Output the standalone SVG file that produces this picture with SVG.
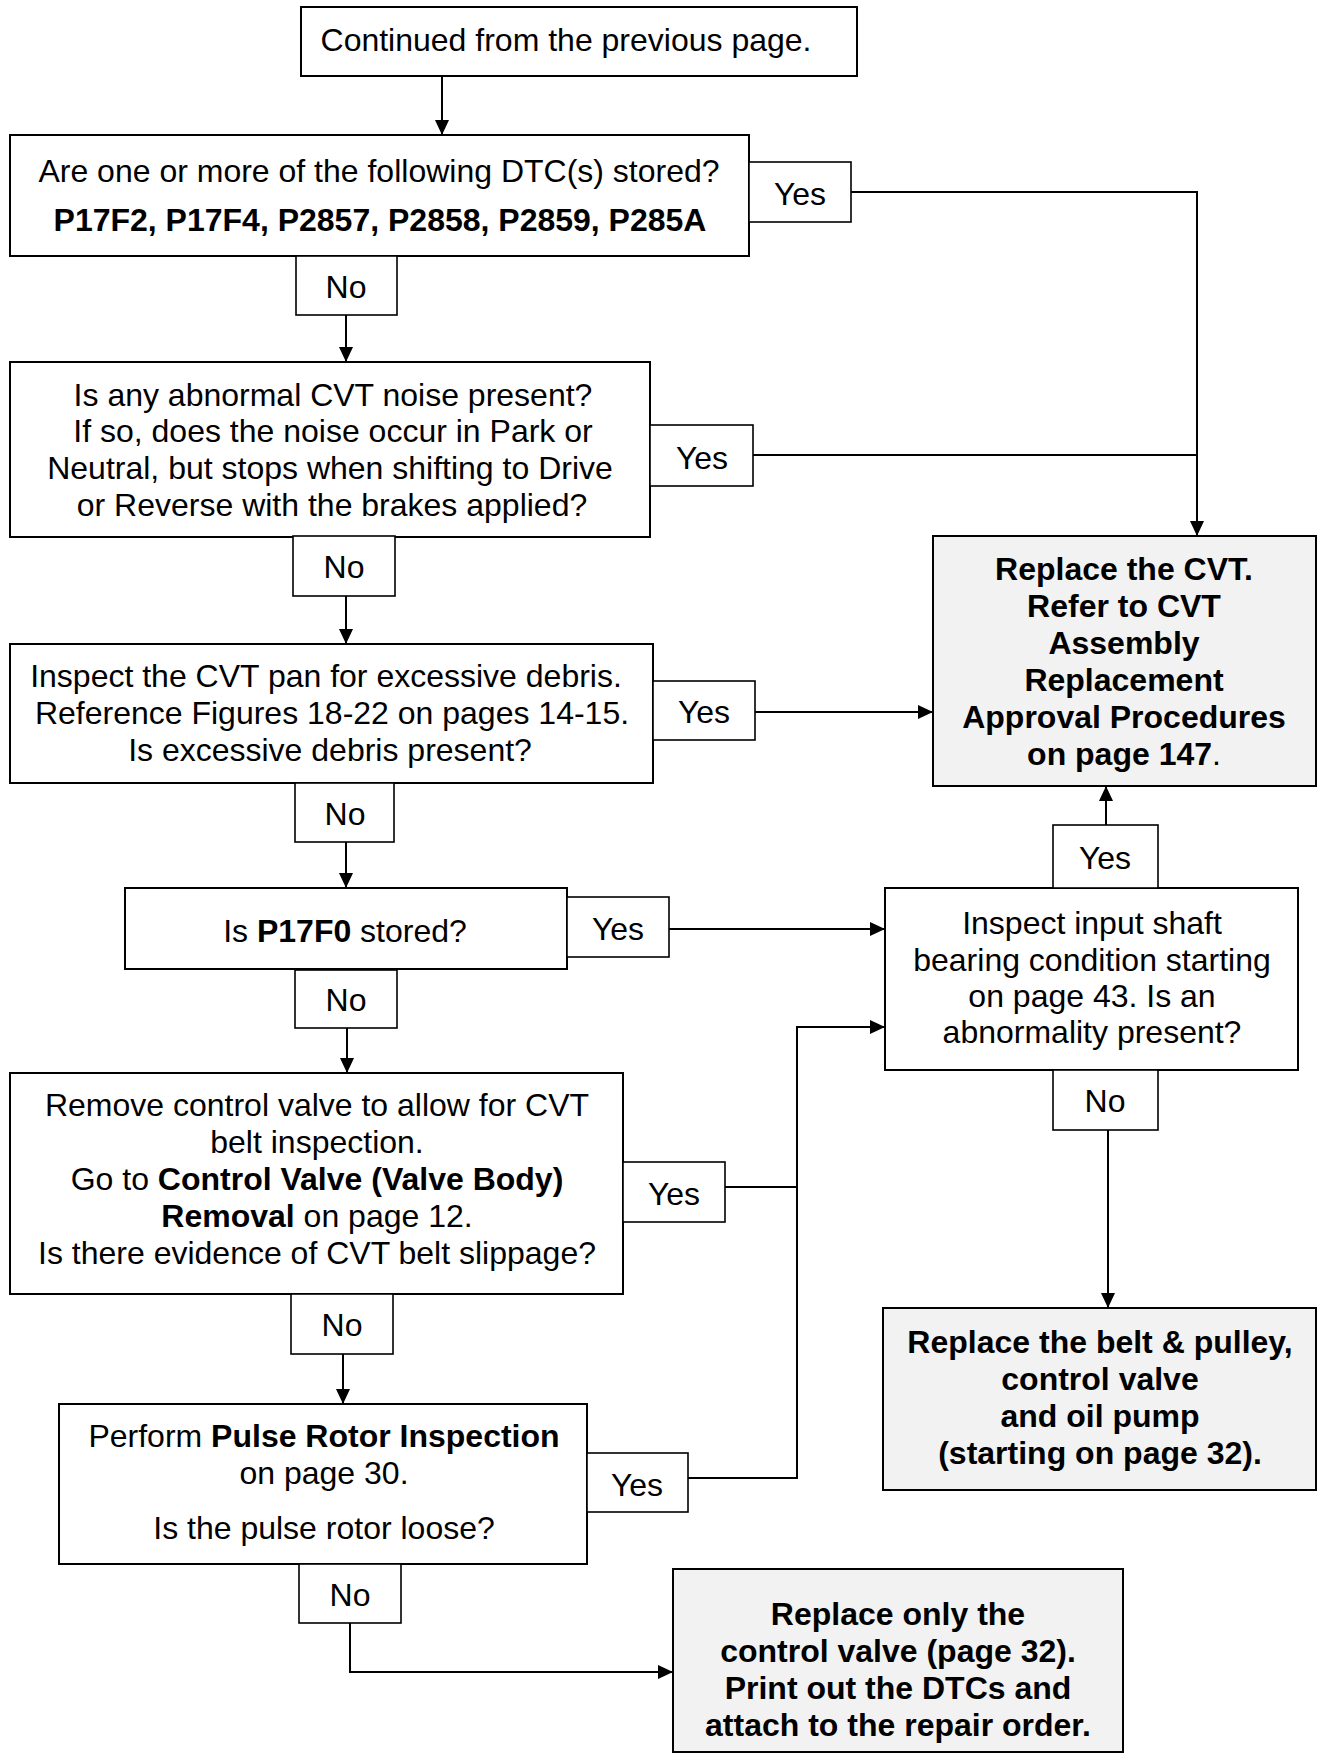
<svg xmlns="http://www.w3.org/2000/svg" width="1321" height="1754" viewBox="0 0 1321 1754">
<defs>
<marker id="ah" viewBox="0 0 15 14" refX="15" refY="7" markerWidth="15" markerHeight="14" markerUnits="userSpaceOnUse" orient="auto">
<path d="M0,0 L15,7 L0,14 Z" fill="#000"/>
</marker>
<style>
.box{fill:#fff;stroke:#000;stroke-width:2}
.term{fill:#f2f2f2;stroke:#000;stroke-width:2}
.lbl{fill:#fff;stroke:#000;stroke-width:1.6}
text{font-family:"Liberation Sans",Arial,sans-serif;font-size:32px;fill:#000;text-anchor:middle}
.b{font-weight:bold}
.c{fill:none;stroke:#000;stroke-width:2}
</style>
</defs>
<rect width="1321" height="1754" fill="#fff"/>

<g id="connectors">
<path class="c" d="M442,76 V135" marker-end="url(#ah)"/>
<path class="c" d="M346,315 V362" marker-end="url(#ah)"/>
<path class="c" d="M851,192 H1197 V536" marker-end="url(#ah)"/>
<path class="c" d="M753,455 H1197"/>
<path class="c" d="M346,596 V644" marker-end="url(#ah)"/>
<path class="c" d="M755,712 H933" marker-end="url(#ah)"/>
<path class="c" d="M346,842 V888" marker-end="url(#ah)"/>
<path class="c" d="M669,929 H885" marker-end="url(#ah)"/>
<path class="c" d="M347,1028 V1073" marker-end="url(#ah)"/>
<path class="c" d="M725,1187 H797"/>
<path class="c" d="M688,1478 H797 V1027 H885" marker-end="url(#ah)"/>
<path class="c" d="M343,1354 V1404" marker-end="url(#ah)"/>
<path class="c" d="M350,1623 V1672 H673" marker-end="url(#ah)"/>
<path class="c" d="M1106,825 V786" marker-end="url(#ah)"/>
<path class="c" d="M1108,1130 V1308" marker-end="url(#ah)"/>
</g>

<g id="n_start">
<rect class="box" x="301" y="7" width="556" height="69"/>
<text x="566" y="51">Continued from the previous page.</text>
</g>

<g id="n_dtc">
<rect class="box" x="10" y="135" width="739" height="121"/>
<text x="379" y="182">Are one or more of the following DTC(s) stored?</text>
<text x="380" y="231" class="b">P17F2, P17F4, P2857, P2858, P2859, P285A</text>
<rect class="lbl" x="749" y="162" width="102" height="60"/>
<text x="800" y="205">Yes</text>
<rect class="lbl" x="296" y="256" width="101" height="59"/>
<text x="346" y="298">No</text>
</g>

<g id="n_noise">
<rect class="box" x="10" y="362" width="640" height="175"/>
<text x="333" y="406">Is any abnormal CVT noise present?</text>
<text x="333" y="442">If so, does the noise occur in Park or</text>
<text x="330" y="479">Neutral, but stops when shifting to Drive</text>
<text x="332" y="516">or Reverse with the brakes applied?</text>
<rect class="lbl" x="650" y="425" width="103" height="61"/>
<text x="702" y="469">Yes</text>
<rect class="lbl" x="293" y="536" width="102" height="60"/>
<text x="344" y="578">No</text>
</g>

<g id="n_debris">
<rect class="box" x="10" y="644" width="643" height="139"/>
<text x="326" y="687">Inspect the CVT pan for excessive debris.</text>
<text x="332" y="724">Reference Figures 18-22 on pages 14-15.</text>
<text x="330" y="761">Is excessive debris present?</text>
<rect class="lbl" x="653" y="681" width="102" height="59"/>
<text x="704" y="723">Yes</text>
<rect class="lbl" x="295" y="783" width="99" height="59"/>
<text x="345" y="825">No</text>
</g>

<g id="n_p17f0">
<rect class="box" x="125" y="888" width="442" height="81"/>
<text x="345" y="942">Is <tspan class="b">P17F0</tspan> stored?</text>
<rect class="lbl" x="567" y="897" width="102" height="60"/>
<text x="618" y="940">Yes</text>
<rect class="lbl" x="295" y="970" width="102" height="58"/>
<text x="346" y="1011">No</text>
</g>

<g id="n_valve">
<rect class="box" x="10" y="1073" width="613" height="221"/>
<text x="317" y="1116">Remove control valve to allow for CVT</text>
<text x="317" y="1153">belt inspection.</text>
<text x="317" y="1190">Go to <tspan class="b">Control Valve (Valve Body)</tspan></text>
<text x="317" y="1227"><tspan class="b">Removal</tspan> on page 12.</text>
<text x="317" y="1264">Is there evidence of CVT belt slippage?</text>
<rect class="lbl" x="623" y="1162" width="102" height="60"/>
<text x="674" y="1205">Yes</text>
<rect class="lbl" x="291" y="1294" width="102" height="60"/>
<text x="342" y="1336">No</text>
</g>

<g id="n_rotor">
<rect class="box" x="59" y="1404" width="528" height="160"/>
<text x="324" y="1447">Perform <tspan class="b">Pulse Rotor Inspection</tspan></text>
<text x="324" y="1484">on page 30.</text>
<text x="324" y="1539">Is the pulse rotor loose?</text>
<rect class="lbl" x="587" y="1453" width="101" height="59"/>
<text x="637" y="1496">Yes</text>
<rect class="lbl" x="299" y="1564" width="102" height="59"/>
<text x="350" y="1606">No</text>
</g>

<g id="n_replace_cvt">
<rect class="term" x="933" y="536" width="383" height="250"/>
<text x="1124" y="580" class="b">Replace the CVT.</text>
<text x="1124" y="617" class="b">Refer to CVT</text>
<text x="1124" y="654" class="b">Assembly</text>
<text x="1124" y="691" class="b">Replacement</text>
<text x="1124" y="728" class="b">Approval Procedures</text>
<text x="1124" y="765"><tspan class="b">on page 147</tspan>.</text>
</g>

<g id="n_bearing">
<rect class="box" x="885" y="888" width="413" height="182"/>
<text x="1092" y="934">Inspect input shaft</text>
<text x="1092" y="971">bearing condition starting</text>
<text x="1092" y="1007">on page 43. Is an</text>
<text x="1092" y="1043">abnormality present?</text>
<rect class="lbl" x="1053" y="825" width="105" height="63"/>
<text x="1105" y="869">Yes</text>
<rect class="lbl" x="1053" y="1070" width="105" height="60"/>
<text x="1105" y="1112">No</text>
</g>

<g id="n_belt">
<rect class="term" x="883" y="1308" width="433" height="182"/>
<text x="1100" y="1353" class="b">Replace the belt &amp; pulley,</text>
<text x="1100" y="1390" class="b">control valve</text>
<text x="1100" y="1427" class="b">and oil pump</text>
<text x="1100" y="1464" class="b">(starting on page 32).</text>
</g>

<g id="n_valve_only">
<rect class="term" x="673" y="1569" width="450" height="183"/>
<text x="898" y="1625" class="b">Replace only the</text>
<text x="898" y="1662" class="b">control valve (page 32).</text>
<text x="898" y="1699" class="b">Print out the DTCs and</text>
<text x="898" y="1736" class="b">attach to the repair order.</text>
</g>
</svg>
